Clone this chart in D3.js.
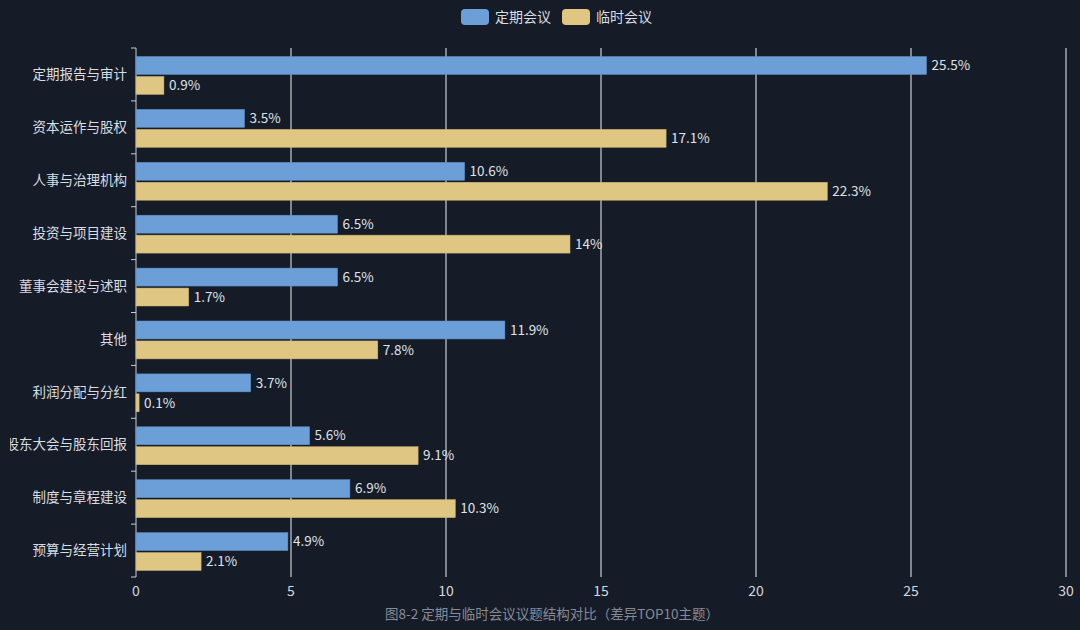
<!DOCTYPE html>
<html>
<head>
<meta charset="utf-8">
<script src="https://cdn.jsdelivr.net/npm/d3@7/dist/d3.min.js"></script>
<style>
  html, body { margin: 0; padding: 0; background: #161c27; }
  #chart { width: 1080px; height: 630px; overflow: hidden; }
  text { font-family: "Noto Sans CJK SC", "Noto Sans", sans-serif; }
</style>
</head>
<body>
<div id="chart"></div>
<script>
// 议题主题（自上而下）
const categories = ["定期报告与审计", "资本运作与股权", "人事与治理机构", "投资与项目建设", "董事会建设与述职",
    "其他", "利润分配与分红", "股东大会与股东回报", "制度与章程建设", "预算与经营计划"];
const seriesNames = ["定期会议", "临时会议"];
const regularValues = [25.5, 3.5, 10.6, 6.5, 6.5, 11.9, 3.7, 5.6, 6.9, 4.9];
const adhocValues = [0.9, 17.1, 22.3, 14, 1.7, 7.8, 0.1, 9.1, 10.3, 2.1];
const xTicks = [0, 5, 10, 15, 20, 25, 30];
const caption = "图8-2 定期与临时会议议题结构对比（差异TOP10主题）";

const colors = ["#6c9fd7", "#dfc683"];
const width = 1080, height = 630;
const margin = { top: 48, right: 14, bottom: 53, left: 136 };

const svg = d3.select('#chart').append('svg')
    .attr('width', width)
    .attr('height', height);

svg.append('rect').attr('width', width).attr('height', height).attr('fill', '#161c27');

// 左侧标签被容器边缘截断
svg.append('defs').append('clipPath')
    .attr('id', 'label-clip')
    .append('rect')
    .attr('x', 10).attr('y', 0)
    .attr('width', width).attr('height', height);

const x = d3.scaleLinear()
    .domain([0, 30])
    .range([margin.left, width - margin.right]);

const y = d3.scaleBand()
    .domain(categories)
    .range([margin.top, height - margin.bottom]);

const inner = d3.scaleBand()
    .domain(seriesNames)
    .range([8.5, y.bandwidth() - 6.5])
    .paddingInner(0.1);

// 竖向网格线
svg.append('g')
    .selectAll('line')
    .data(xTicks.slice(1))
    .join('line')
    .attr('x1', d => x(d)).attr('x2', d => x(d))
    .attr('y1', margin.top).attr('y2', height - margin.bottom)
    .attr('stroke', '#eceef2')
    .attr('stroke-width', 1);

// x 轴刻度标签
svg.append('g')
    .selectAll('text')
    .data(xTicks)
    .join('text')
    .attr('x', d => x(d))
    .attr('y', height - margin.bottom + 19)
    .attr('text-anchor', 'middle')
    .attr('fill', '#d4d8df')
    .style('font-size', '14px')
    .text(d => d);

// y 轴
const yAxis = svg.append('g');
yAxis.append('line')
    .attr('x1', margin.left).attr('x2', margin.left)
    .attr('y1', margin.top).attr('y2', height - margin.bottom)
    .attr('stroke', '#c8ccd3');
yAxis.selectAll('line.tick')
    .data(d3.range(categories.length + 1))
    .join('line')
    .attr('class', 'tick')
    .attr('x1', margin.left - 5).attr('x2', margin.left)
    .attr('y1', i => margin.top + i * y.step())
    .attr('y2', i => margin.top + i * y.step())
    .attr('stroke', '#c8ccd3');
yAxis.append('g')
    .attr('clip-path', 'url(#label-clip)')
    .selectAll('text')
    .data(categories)
    .join('text')
    .attr('x', margin.left - 9)
    .attr('y', d => y(d) + y.bandwidth() / 2)
    .attr('dy', '0.35em')
    .attr('text-anchor', 'end')
    .attr('fill', '#d8dce3')
    .style('font-size', '13.5px')
    .text(d => d);

// 柱子
const rows = categories.map((c, i) => ({
    category: c,
    values: [
        { name: seriesNames[0], value: regularValues[i] },
        { name: seriesNames[1], value: adhocValues[i] }
    ]
}));

const groups = svg.append('g')
    .selectAll('g')
    .data(rows)
    .join('g')
    .attr('transform', d => `translate(0,${y(d.category)})`);

groups.selectAll('rect')
    .data(d => d.values)
    .join('rect')
    .attr('x', x(0))
    .attr('y', d => inner(d.name))
    .attr('width', d => x(d.value) - x(0))
    .attr('height', inner.bandwidth())
    .attr('fill', (d, i) => colors[i])
    .attr('stroke', (d, i) => i === 0 ? '#5f90c6' : '#ccb372')
    .attr('stroke-width', 0.5);

groups.selectAll('text')
    .data(d => d.values)
    .join('text')
    .attr('x', d => x(d.value) + 5)
    .attr('y', d => inner(d.name) + inner.bandwidth() / 2)
    .attr('dy', '0.35em')
    .attr('fill', '#dfe2e8')
    .style('font-size', '13.5px')
    .text(d => d.value + '%');

// 图例
const legend = svg.append('g');
const legendX = [461, 562];
seriesNames.forEach((name, i) => {
    legend.append('rect')
        .attr('x', legendX[i]).attr('y', 9)
        .attr('width', 28).attr('height', 16)
        .attr('rx', 4)
        .attr('fill', colors[i]);
    legend.append('text')
        .attr('x', legendX[i] + 34).attr('y', 17)
        .attr('dy', '0.35em')
        .attr('fill', '#d8dce3')
        .style('font-size', '14px')
        .text(name);
});

// 图注
svg.append('text')
    .attr('x', 552)
    .attr('y', 614)
    .attr('dy', '0.35em')
    .attr('text-anchor', 'middle')
    .attr('fill', '#858b96')
    .style('font-size', '13.5px')
    .text(caption);
</script>
</body>
</html>
